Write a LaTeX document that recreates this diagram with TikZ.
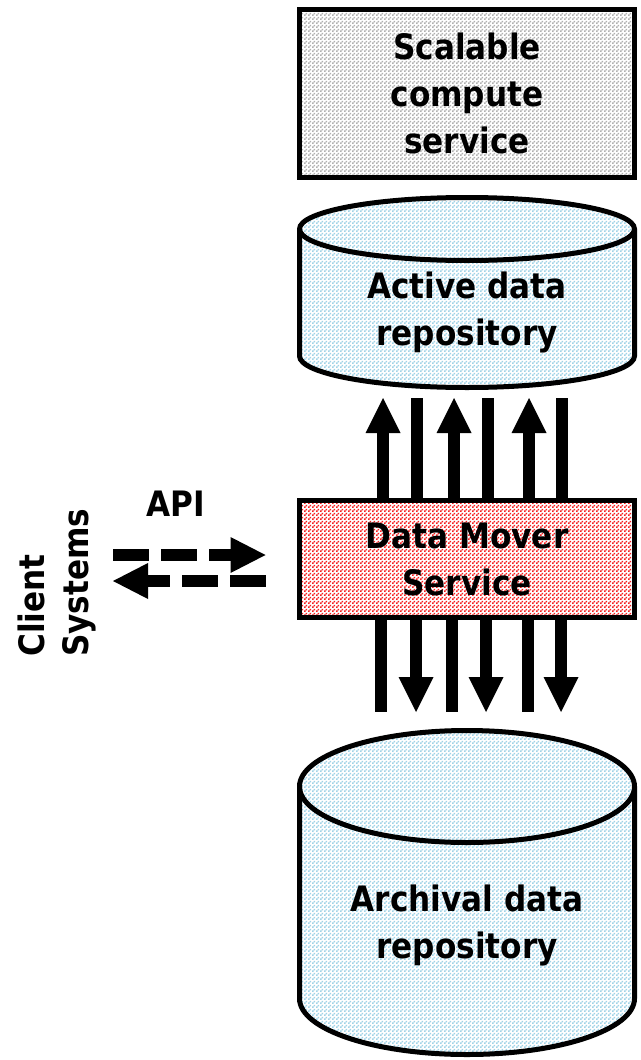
\documentclass[tikz,border=0pt]{standalone}
\usepackage{fontspec}
\setmainfont[FakeStretch=0.89]{DejaVu Sans}
\usepackage{tikz}
\usetikzlibrary{positioning,calc,arrows.meta,patterns}

\definecolor{checkgray}{RGB}{176,176,176}
\definecolor{checkblue}{RGB}{160,210,230}
\definecolor{checkred}{RGB}{245,30,30}

\pgfdeclarepatternformonly{checks}{\pgfqpoint{0pt}{0pt}}{\pgfqpoint{3pt}{3pt}}{\pgfqpoint{3pt}{3pt}}{%
  \pgfpathrectangle{\pgfqpoint{0pt}{0pt}}{\pgfqpoint{1.5pt}{1.5pt}}%
  \pgfpathrectangle{\pgfqpoint{1.5pt}{1.5pt}}{\pgfqpoint{1.5pt}{1.5pt}}%
  \pgfusepath{fill}}

\begin{document}
\begin{tikzpicture}[x=0.75pt,y=0.75pt,font=\fontsize{26.25}{35.25}\selectfont\bfseries,
  box/.style={draw,line width=3.75pt,minimum width=251.25pt,align=center,inner sep=0pt,pattern=checks},
  repo/.style={draw,line width=3.75pt,pattern=checks,pattern color=checkblue},
  flow/.style={line width=9pt,-{Triangle[length=26.25pt,width=26.25pt,line width=0pt]}},
  plainflow/.style={line width=9pt},
  apiarrow/.style={line width=9pt,dash pattern=on 27pt off 9pt,-{Triangle[length=26.25pt,width=27pt,line width=0pt]}}]
  \useasboundingbox (0,0) rectangle (641,-1060);

  \node[box,pattern color=checkgray,minimum height=126pt] (compute) at (467,-93.5) {Scalable\\compute\\service};

  % active data repository
  \path[repo] (299.5,-229) -- (299.5,-356) arc[start angle=180,end angle=360,x radius=167.5,y radius=31.5]
    -- (634.5,-229) arc[start angle=0,end angle=180,x radius=167.5,y radius=31.5] -- cycle;
  \draw[line width=3.75pt] (299.5,-229) arc[start angle=180,end angle=360,x radius=167.5,y radius=31.5];
  \node[align=center] (active) at (467,-312) {Active data\\repository};
  \coordinate (upend) at (467,-398);

  % archival data repository
  \path[repo] (299.5,-786.5) -- (299.5,-998.5) arc[start angle=180,end angle=360,x radius=167.5,y radius=56]
    -- (634.5,-786.5) arc[start angle=0,end angle=180,x radius=167.5,y radius=56] -- cycle;
  \draw[line width=3.75pt] (299.5,-786.5) arc[start angle=180,end angle=360,x radius=167.5,y radius=56];
  \node[align=center] (archive) at (467,-925) {Archival data\\repository};
  \coordinate (downend) at (467,-712);

  \node[box,pattern color=checkred,minimum height=87.75pt] (mover) at (467,-559) {Data Mover\\Service};

  \foreach \dx in {-84,-13,62}
    \draw[flow] ([xshift=\dx*0.75pt]mover.north) -- ([xshift=\dx*0.75pt]upend);
  \foreach \dx in {-50,21,95}
    \draw[plainflow] ([xshift=\dx*0.75pt]mover.north) -- ([xshift=\dx*0.75pt]upend);
  \foreach \dx in {-51,19,94}
    \draw[flow] ([xshift=\dx*0.75pt]mover.south) -- ([xshift=\dx*0.75pt]downend);
  \foreach \dx in {-86,-15,61}
    \draw[plainflow] ([xshift=\dx*0.75pt]mover.south) -- ([xshift=\dx*0.75pt]downend);

  \node[rotate=90,anchor=west,align=left,inner sep=0pt,font=\fontsize{26.25}{33}\selectfont\bfseries] (clients) at (56.5,-657) {Client\\Systems};
  \node[anchor=base] (api) at (176,-516) {API};

  \coordinate (apileft) at (113,-568);
  \coordinate (apiright) at (265.5,-568);
  \draw[apiarrow] ($(apileft)+(0,13)$) -- ($(apiright)+(0,13)$);
  \draw[apiarrow] ($(apiright)+(0,-13)$) -- ($(apileft)+(0,-13)$);
\end{tikzpicture}
\end{document}
